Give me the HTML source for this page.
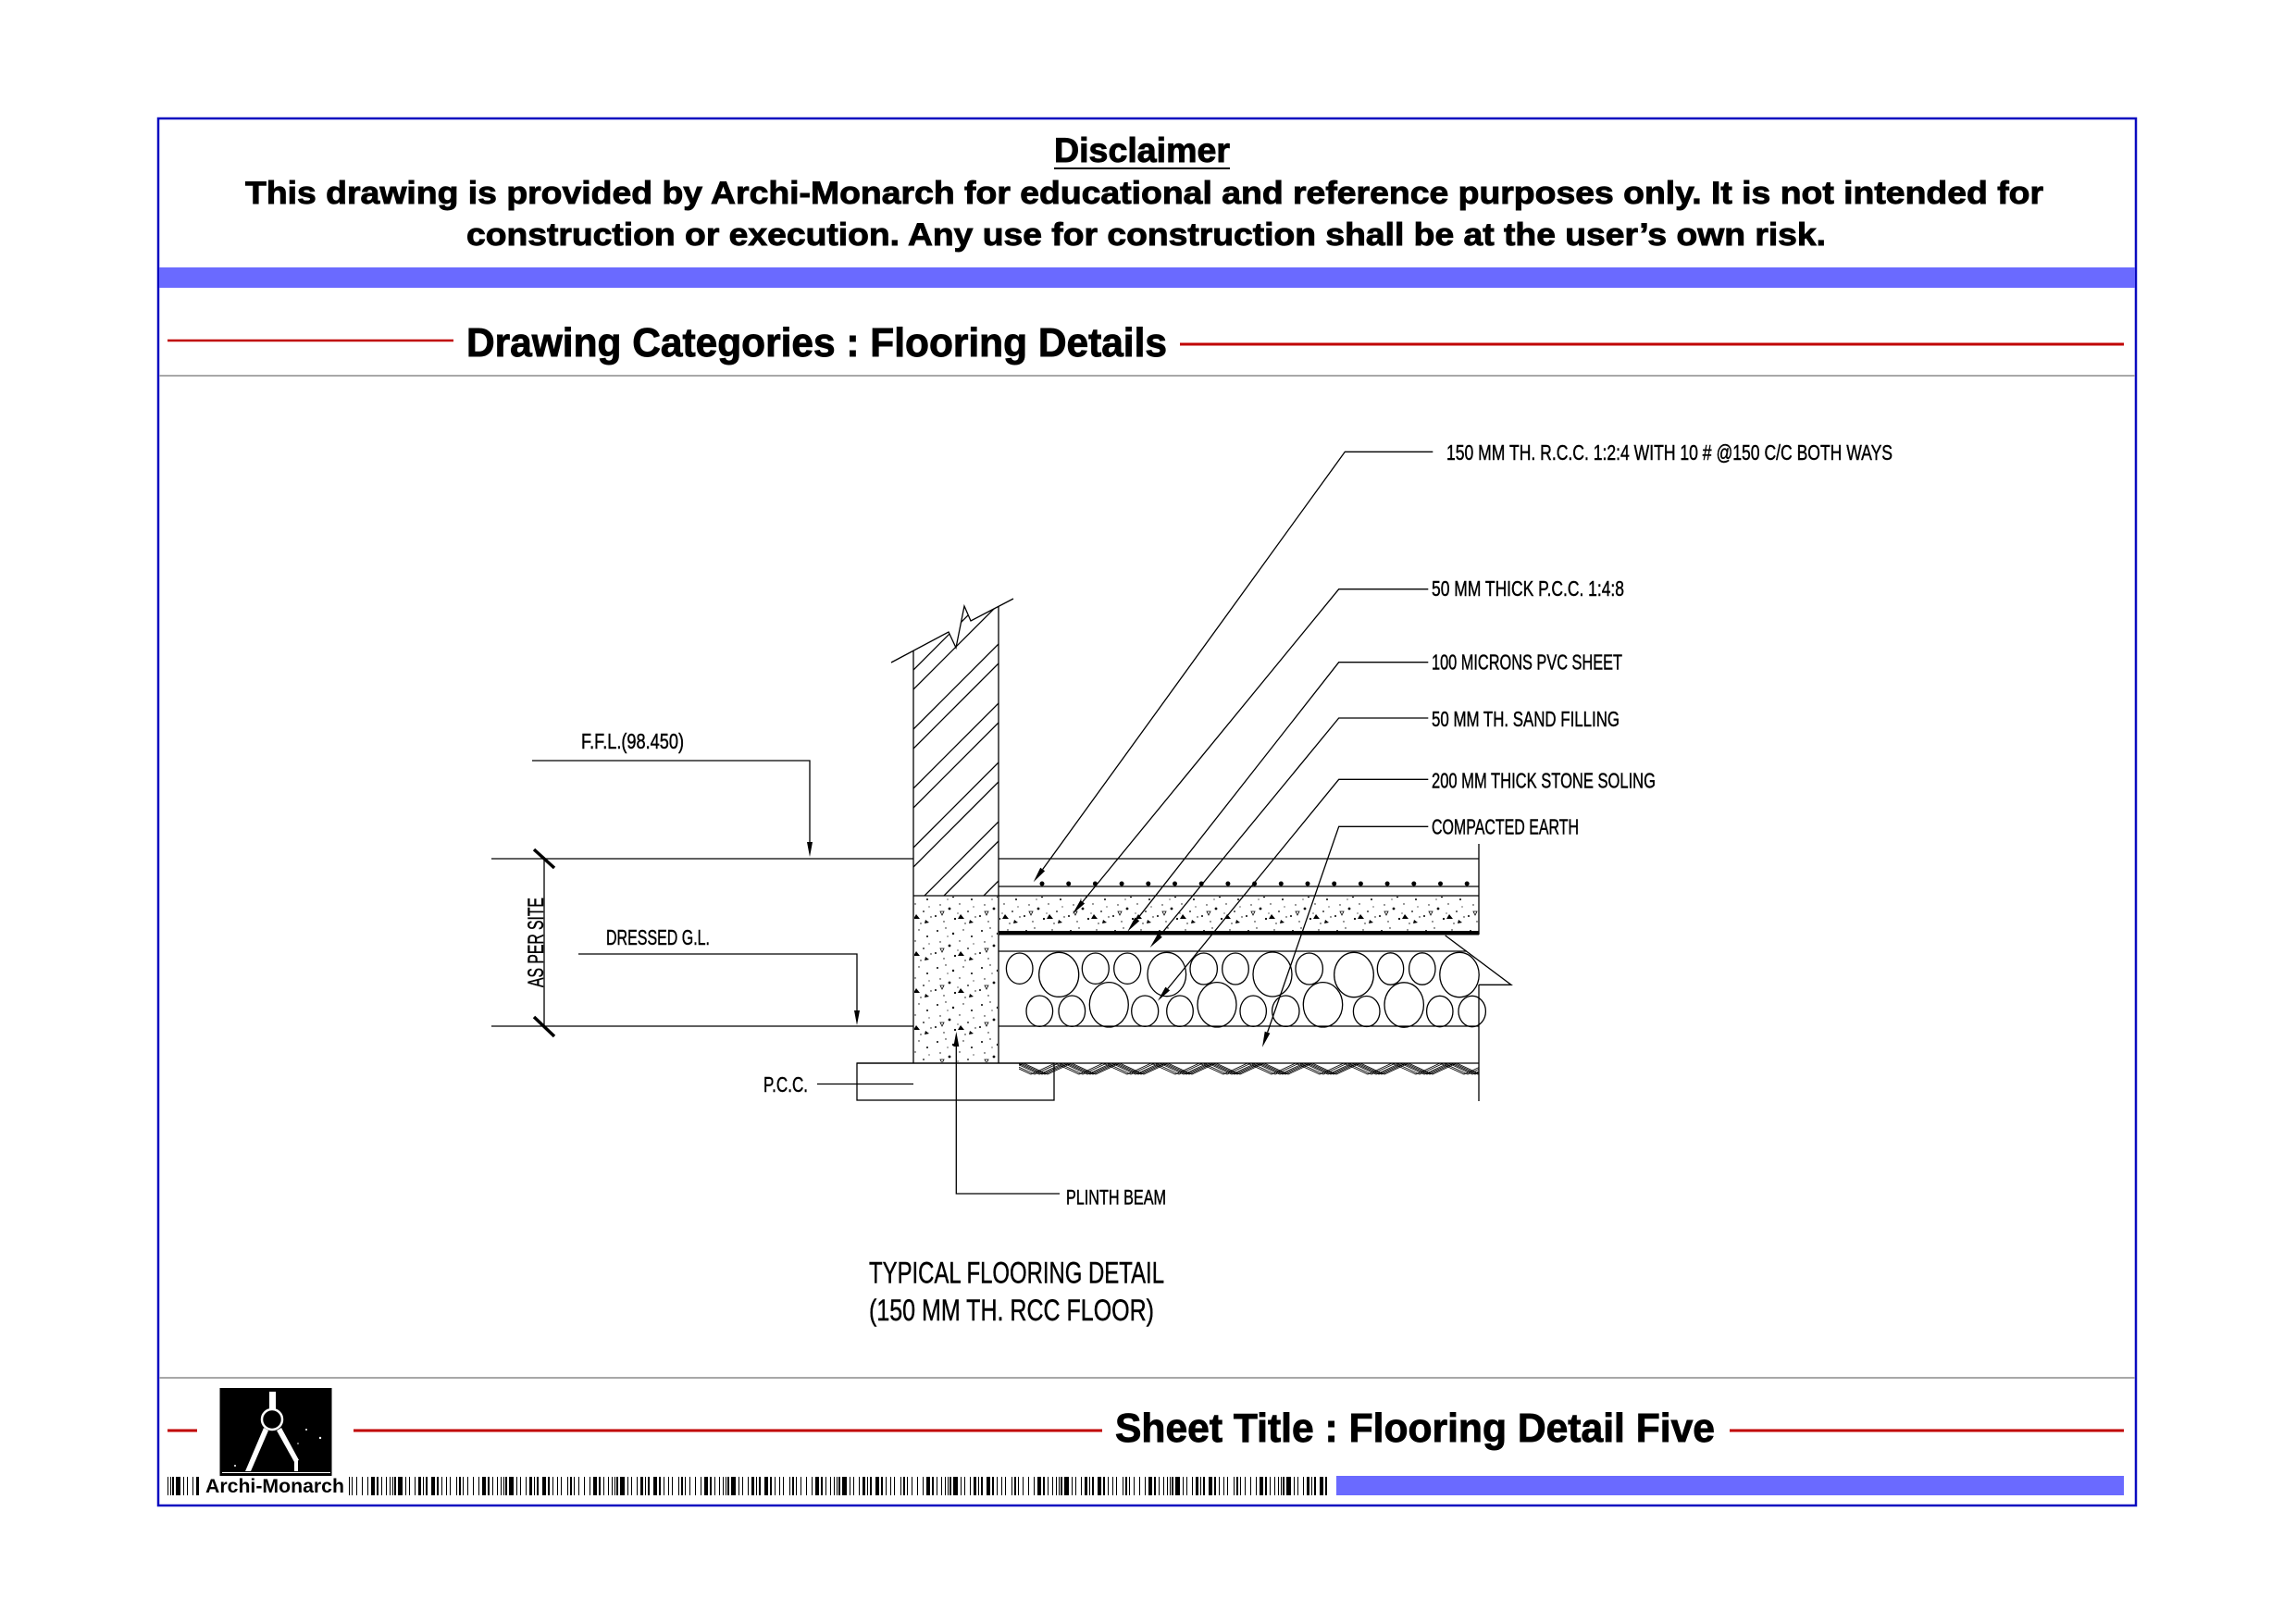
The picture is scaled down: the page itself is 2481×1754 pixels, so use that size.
<!DOCTYPE html>
<html>
<head>
<meta charset="utf-8">
<style>
html,body{margin:0;padding:0;background:#fff;}
svg{display:block;}
text{font-family:"Liberation Sans",Arial,sans-serif;fill:#000;}
.hb{font-weight:bold;stroke:#000;stroke-width:0.9;}
.lb{stroke:#000;stroke-width:0.45;}
</style>
</head>
<body>
<svg xmlns="http://www.w3.org/2000/svg" width="2481" height="1754" viewBox="0 0 2481 1754">
<defs>
  <pattern id="conc" x="0" y="0" width="48" height="40" patternUnits="userSpaceOnUse">
    <circle cx="5" cy="6" r="1" fill="#000"/>
    <circle cx="14" cy="3" r="0.7" fill="#000"/>
    <circle cx="22" cy="9" r="1.2" fill="#000"/>
    <circle cx="33" cy="5" r="0.7" fill="#000"/>
    <circle cx="42" cy="12" r="1" fill="#000"/>
    <circle cx="8" cy="18" r="0.7" fill="#000"/>
    <circle cx="18" cy="22" r="1.4" fill="#000"/>
    <circle cx="29" cy="17" r="0.7" fill="#000"/>
    <circle cx="38" cy="25" r="0.9" fill="#000"/>
    <circle cx="46" cy="31" r="0.7" fill="#000"/>
    <circle cx="3" cy="30" r="1" fill="#000"/>
    <circle cx="12" cy="36" r="0.7" fill="#000"/>
    <circle cx="24" cy="33" r="1.1" fill="#000"/>
    <circle cx="35" cy="38" r="0.7" fill="#000"/>
    <circle cx="16" cy="12" r="0.6" fill="#000"/>
    <circle cx="27" cy="27" r="0.6" fill="#000"/>
    <circle cx="44" cy="20" r="0.6" fill="#000"/>
    <polygon points="30,28 34,33 27,33" fill="#000"/>
    <polygon points="8,25 12,25 10,29" fill="none" stroke="#000" stroke-width="0.8"/>
    <polygon points="40,34 44,37 39,38" fill="#000"/>
  </pattern>
  <pattern id="bc" x="181" y="1596" width="120" height="20" patternUnits="userSpaceOnUse">
    <rect x="0" y="0" width="1" height="20" fill="#000"/>
    <rect x="3" y="0" width="1" height="20" fill="#000"/>
    <rect x="5" y="0" width="2" height="20" fill="#000"/>
    <rect x="9" y="0" width="5" height="20" fill="#000"/>
    <rect x="17" y="0" width="1" height="20" fill="#000"/>
    <rect x="21" y="0" width="1" height="20" fill="#000"/>
    <rect x="27" y="0" width="1" height="20" fill="#000"/>
    <rect x="31" y="0" width="3" height="20" fill="#000"/>
    <rect x="36" y="0" width="1" height="20" fill="#000"/>
    <rect x="39" y="0" width="2" height="20" fill="#000"/>
    <rect x="45" y="0" width="4" height="20" fill="#000"/>
    <rect x="51" y="0" width="2" height="20" fill="#000"/>
    <rect x="56" y="0" width="1" height="20" fill="#000"/>
    <rect x="61" y="0" width="1" height="20" fill="#000"/>
    <rect x="65" y="0" width="1" height="20" fill="#000"/>
    <rect x="72" y="0" width="1" height="20" fill="#000"/>
    <rect x="75" y="0" width="2" height="20" fill="#000"/>
    <rect x="79" y="0" width="1" height="20" fill="#000"/>
    <rect x="84" y="0" width="1" height="20" fill="#000"/>
    <rect x="90" y="0" width="1" height="20" fill="#000"/>
    <rect x="96" y="0" width="1" height="20" fill="#000"/>
    <rect x="100" y="0" width="4" height="20" fill="#000"/>
    <rect x="106" y="0" width="2" height="20" fill="#000"/>
    <rect x="111" y="0" width="1" height="20" fill="#000"/>
    <rect x="116" y="0" width="1" height="20" fill="#000"/>
  </pattern>
  <clipPath id="wallclip">
    <polygon points="987,703.2 1025,683 1033,700 1042,655 1049,671 1079,655.3 1079,968 987,968"/>
  </clipPath>
  <clipPath id="earthclip">
    <rect x="1101" y="1149" width="497" height="13"/>
  </clipPath>
  <polyline id="zz" fill="none" stroke="#000" stroke-width="0.8" points="1077,1161 1103,1149 1129,1161 1155,1149 1181,1161 1207,1149 1233,1161 1259,1149 1285,1161 1311,1149 1337,1161 1363,1149 1389,1161 1415,1149 1441,1161 1467,1149 1493,1161 1519,1149 1545,1161 1571,1149 1597,1161 1623,1149"/>
  <polyline id="zz2" fill="none" stroke="#000" stroke-width="0.8" points="1090,1149 1116,1161 1142,1149 1168,1161 1194,1149 1220,1161 1246,1149 1272,1161 1298,1149 1324,1161 1350,1149 1376,1161 1402,1149 1428,1161 1454,1149 1480,1161 1506,1149 1532,1161 1558,1149 1584,1161 1610,1149"/>
</defs>

<rect x="0" y="0" width="2481" height="1754" fill="#fff"/>

<!-- Frame -->
<rect x="171" y="128" width="2137" height="1499" fill="none" stroke="#0a0ac0" stroke-width="2.5"/>

<!-- Header -->
<text x="1139" y="175" font-size="37" class="hb" textLength="190" lengthAdjust="spacingAndGlyphs">Disclaimer</text>
<line x1="1139" y1="182" x2="1329" y2="182" stroke="#000" stroke-width="2"/>
<text x="265" y="220" font-size="34" class="hb" textLength="1943" lengthAdjust="spacingAndGlyphs">This drawing is provided by Archi-Monarch for educational and reference purposes only. It is not intended for</text>
<text x="504" y="265" font-size="34" class="hb" textLength="1469" lengthAdjust="spacingAndGlyphs">construction or execution. Any use for construction shall be at the user’s own risk.</text>
<rect x="172" y="289" width="2135" height="22" fill="#6a6aff"/>

<!-- Category -->
<line x1="181" y1="368" x2="490" y2="368" stroke="#c00000" stroke-width="2.5"/>
<text x="504" y="385" font-size="44" class="hb" textLength="757" lengthAdjust="spacingAndGlyphs">Drawing Categories : Flooring Details</text>
<line x1="1275" y1="372" x2="2295" y2="372" stroke="#c00000" stroke-width="3"/>
<line x1="172" y1="406" x2="2307" y2="406" stroke="#a8a8a8" stroke-width="2"/>

<!-- Footer -->
<line x1="172" y1="1489" x2="2307" y2="1489" stroke="#a8a8a8" stroke-width="2"/>
<line x1="181" y1="1546" x2="213" y2="1546" stroke="#c00000" stroke-width="3"/>
<line x1="382" y1="1546" x2="1191" y2="1546" stroke="#c00000" stroke-width="3"/>
<text x="1205" y="1558" font-size="44" class="hb" textLength="648" lengthAdjust="spacingAndGlyphs">Sheet Title : Flooring Detail Five</text>
<line x1="1869" y1="1546" x2="2295" y2="1546" stroke="#c00000" stroke-width="3"/>

<!-- Logo -->
<rect x="237.5" y="1500" width="121" height="95.5" fill="#000"/>
<rect x="291" y="1504" width="7" height="19" fill="#fff"/>
<circle cx="294" cy="1534" r="11" fill="none" stroke="#fff" stroke-width="2.5"/>
<polygon points="285,1543 290,1546 271,1590 265,1590" fill="#fff"/>
<polygon points="299,1546 304,1543 323,1578 318,1580" fill="#fff"/>
<rect x="318" y="1577" width="4" height="13" fill="#fff"/>
<line x1="240" y1="1591.5" x2="357" y2="1591.5" stroke="#fff" stroke-width="1"/>
<circle cx="331" cy="1545" r="1" fill="#fff"/>
<circle cx="346" cy="1554" r="1.2" fill="#fff"/>
<circle cx="254" cy="1584" r="1" fill="#fff"/>
<circle cx="322" cy="1560" r="0.8" fill="#fff"/>

<!-- Barcode strip -->
<rect x="181" y="1596" width="1253" height="20" fill="url(#bc)"/>
<rect x="217" y="1595" width="160" height="22" fill="#fff"/>
<text x="222" y="1613" font-size="21" font-weight="bold" textLength="150" lengthAdjust="spacingAndGlyphs">Archi-Monarch</text>
<rect x="1444" y="1595" width="851" height="21" fill="#6a6aff"/>

<!-- ================= DRAWING ================= -->
<g stroke="#000" stroke-width="1.3" fill="none">
  <line x1="531" y1="928" x2="987" y2="928"/>
  <line x1="531" y1="1109" x2="987" y2="1109"/>
  <line x1="588" y1="928" x2="588" y2="1109"/>
  <polyline points="575,822 875,822 875,912"/>
  <polyline points="625,1031 926,1031 926,1094"/>
  <line x1="883" y1="1171.5" x2="987" y2="1171.5"/>
  <rect x="926" y="1149" width="213" height="40"/>
  <polyline points="1033.3,1129 1033.3,1290 1145,1290"/>

  <line x1="987" y1="703.2" x2="987" y2="1149"/>
  <line x1="1079" y1="655.3" x2="1079" y2="1149"/>
  <polyline points="963,716 1025,683 1033,700 1042,655 1049,671 1095,647"/>
  <g clip-path="url(#wallclip)">
    <line x1="987" y1="724" x2="1079" y2="632"/>
    <line x1="987" y1="745" x2="1079" y2="653"/>
    <line x1="987" y1="788" x2="1079" y2="696"/>
    <line x1="987" y1="809" x2="1079" y2="717"/>
    <line x1="987" y1="852" x2="1079" y2="760"/>
    <line x1="987" y1="873" x2="1079" y2="781"/>
    <line x1="987" y1="916" x2="1079" y2="824"/>
    <line x1="987" y1="937" x2="1079" y2="845"/>
    <line x1="987" y1="980" x2="1079" y2="888"/>
    <line x1="987" y1="1001" x2="1079" y2="909"/>
    <line x1="987" y1="1044" x2="1079" y2="952"/>
  </g>
</g>

<rect x="988" y="969" width="90" height="179" fill="url(#conc)"/>
<rect x="1080" y="969" width="517" height="37" fill="url(#conc)"/>

<g stroke="#000" stroke-width="1.3" fill="none">
  <line x1="1079" y1="928" x2="1598" y2="928"/>
  <line x1="1079" y1="958" x2="1598" y2="958"/>
  <line x1="987" y1="968" x2="1598" y2="968"/>
  <line x1="1079" y1="1028" x2="1585" y2="1028"/>
  <line x1="1079" y1="1109" x2="1598" y2="1109"/>
  <line x1="926" y1="1149" x2="1598" y2="1149"/>
  <line x1="1598" y1="912" x2="1598" y2="1010"/>
  <line x1="1598" y1="1064" x2="1598" y2="1190"/>
  <polyline points="1561.7,1011 1633,1064.3 1598,1064.3"/>

  <ellipse cx="1101.7" cy="1046.7" rx="14.3" ry="16.7"/>
  <ellipse cx="1144.2" cy="1053.3" rx="21.5" ry="24"/>
  <ellipse cx="1183.8" cy="1046.7" rx="14.5" ry="16.7"/>
  <ellipse cx="1218.2" cy="1046.7" rx="14.5" ry="16.7"/>
  <ellipse cx="1260.8" cy="1053" rx="20.8" ry="23.7"/>
  <ellipse cx="1300.7" cy="1047" rx="14.7" ry="17"/>
  <ellipse cx="1335" cy="1047" rx="14.3" ry="17"/>
  <ellipse cx="1375" cy="1053" rx="21" ry="24"/>
  <ellipse cx="1414.7" cy="1047" rx="14.7" ry="17"/>
  <ellipse cx="1463" cy="1053.5" rx="21.3" ry="24.2"/>
  <ellipse cx="1502.5" cy="1047" rx="14.2" ry="17.2"/>
  <ellipse cx="1536.8" cy="1047" rx="14.2" ry="17.2"/>
  <ellipse cx="1577" cy="1053.5" rx="21.2" ry="24.2"/>
  <ellipse cx="1123.3" cy="1092.7" rx="14.3" ry="16.7"/>
  <ellipse cx="1158.3" cy="1092.7" rx="14.3" ry="16.7"/>
  <ellipse cx="1198.3" cy="1085.8" rx="21" ry="24.2"/>
  <ellipse cx="1237.2" cy="1092.7" rx="14.5" ry="16.7"/>
  <ellipse cx="1275" cy="1092.7" rx="14.3" ry="16.7"/>
  <ellipse cx="1315" cy="1085.8" rx="21" ry="24.2"/>
  <ellipse cx="1354.2" cy="1092.7" rx="14.2" ry="16.7"/>
  <ellipse cx="1389.3" cy="1092.7" rx="14.7" ry="16.7"/>
  <ellipse cx="1429.5" cy="1085.8" rx="21.2" ry="24.2"/>
  <ellipse cx="1476.7" cy="1093" rx="14.3" ry="16.5"/>
  <ellipse cx="1517.2" cy="1086" rx="21.2" ry="24.2"/>
  <ellipse cx="1555.8" cy="1093" rx="14.2" ry="16.7"/>
  <ellipse cx="1590.7" cy="1093" rx="14.7" ry="16.7"/>

  <polyline points="1548.3,488.3 1453.3,488.3 1126.7,939.5"/>
  <polyline points="1543.3,636.7 1446.7,636.7 1169.8,974.6"/>
  <polyline points="1543.3,715.7 1446.7,715.7 1228.8,993.3"/>
  <polyline points="1543.3,776 1446.7,776 1253.5,1010.9"/>
  <polyline points="1543.3,842.3 1446.7,842.3 1261.8,1068.5"/>
  <polyline points="1543.3,893.3 1446.7,893.3 1369.6,1115.6"/>
</g>

<rect x="1079" y="1006" width="519" height="4.5" fill="#000"/>

<g fill="#000">
  <circle cx="1126" cy="955" r="2.5"/><circle cx="1154.7" cy="955" r="2.5"/><circle cx="1183.4" cy="955" r="2.5"/>
  <circle cx="1212.1" cy="955" r="2.5"/><circle cx="1240.8" cy="955" r="2.5"/><circle cx="1269.5" cy="955" r="2.5"/>
  <circle cx="1298.2" cy="955" r="2.5"/><circle cx="1326.9" cy="955" r="2.5"/><circle cx="1355.6" cy="955" r="2.5"/>
  <circle cx="1384.3" cy="955" r="2.5"/><circle cx="1413" cy="955" r="2.5"/><circle cx="1441.7" cy="955" r="2.5"/>
  <circle cx="1470.4" cy="955" r="2.5"/><circle cx="1499.1" cy="955" r="2.5"/><circle cx="1527.8" cy="955" r="2.5"/>
  <circle cx="1556.5" cy="955" r="2.5"/><circle cx="1585.2" cy="955" r="2.5"/>
</g>

<g clip-path="url(#earthclip)">
  <use href="#zz" transform="translate(-6,0)"/>
  <use href="#zz" transform="translate(-3,0)"/>
  <use href="#zz"/>
  <use href="#zz" transform="translate(3,0)"/>
  <use href="#zz2" transform="translate(-2,0)"/>
  <use href="#zz2" transform="translate(2,0)"/>
</g>

<g fill="#000">
  <polygon points="1116.7,953.3 1129.1,941.3 1124.2,937.8"/>
  <polygon points="1159,987.7 1172.1,976.5 1167.5,972.7"/>
  <polygon points="1218.3,1006.7 1231.2,995.2 1226.4,991.5"/>
  <polygon points="1242.7,1024 1255.8,1012.8 1251.2,1009"/>
  <polygon points="1251,1081.7 1264.1,1070.4 1259.4,1066.6"/>
  <polygon points="1364,1131.7 1372.4,1116.6 1366.7,1114.7"/>
  <polygon points="875,926 872,910 878,910"/>
  <polygon points="926,1108 923,1092 929,1092"/>
  <polygon points="1033.3,1115 1030.3,1131 1036.3,1131"/>
</g>

<line x1="577" y1="918" x2="599" y2="938" stroke="#000" stroke-width="3.5"/>
<line x1="577" y1="1099" x2="599" y2="1120" stroke="#000" stroke-width="3.5"/>

<g font-size="23" class="lb">
  <text x="1563" y="497" textLength="482" lengthAdjust="spacingAndGlyphs">150 MM TH. R.C.C. 1:2:4 WITH 10 # @150 C/C BOTH WAYS</text>
  <text x="1547" y="644" textLength="208" lengthAdjust="spacingAndGlyphs">50 MM THICK P.C.C. 1:4:8</text>
  <text x="1547" y="723.5" textLength="206" lengthAdjust="spacingAndGlyphs">100 MICRONS PVC SHEET</text>
  <text x="1547" y="785" textLength="203" lengthAdjust="spacingAndGlyphs">50 MM TH. SAND FILLING</text>
  <text x="1547" y="851.7" textLength="242" lengthAdjust="spacingAndGlyphs">200 MM THICK STONE SOLING</text>
  <text x="1547" y="901.7" textLength="159" lengthAdjust="spacingAndGlyphs">COMPACTED EARTH</text>
  <text x="628" y="809" textLength="111" lengthAdjust="spacingAndGlyphs">F.F.L.(98.450)</text>
  <text x="655" y="1021" textLength="112" lengthAdjust="spacingAndGlyphs">DRESSED G.L.</text>
  <text x="825" y="1180" textLength="48" lengthAdjust="spacingAndGlyphs">P.C.C.</text>
  <text x="1152" y="1301.7" font-size="22" textLength="108" lengthAdjust="spacingAndGlyphs">PLINTH BEAM</text>
  <text transform="translate(587,1067) rotate(-90)" font-size="24" textLength="97" lengthAdjust="spacingAndGlyphs">AS PER SITE</text>
</g>
<text x="939" y="1386.7" font-size="32" class="lb" textLength="319" lengthAdjust="spacingAndGlyphs">TYPICAL FLOORING DETAIL</text>
<text x="939" y="1427" font-size="32" class="lb" textLength="308" lengthAdjust="spacingAndGlyphs">(150 MM TH. RCC FLOOR)</text>

</svg>
</body>
</html>
